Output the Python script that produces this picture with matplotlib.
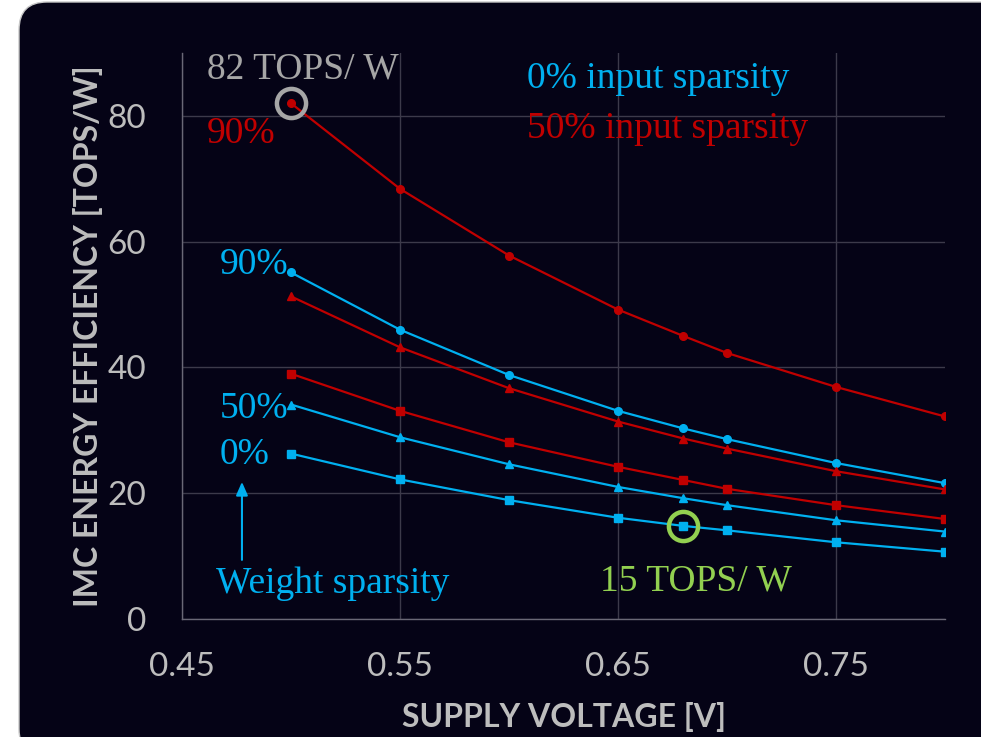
import numpy as np
import matplotlib
matplotlib.use('Agg')
import matplotlib.pyplot as plt
import matplotlib.patches as mpatches
import matplotlib.transforms as mtransforms

voltage = [0.50, 0.55, 0.60, 0.65, 0.68, 0.70, 0.75, 0.80]

# 0% input sparsity (cyan), weight sparsity 90 / 50 / 0 %
in0_w90 = [55.1, 46.0, 38.8, 33.1, 30.3, 28.6, 24.8, 21.6]
in0_w50 = [34.1, 28.9, 24.6, 21.0, 19.2, 18.1, 15.7, 13.9]
in0_w0 = [26.3, 22.2, 18.9, 16.1, 14.8, 14.1, 12.2, 10.7]

# 50% input sparsity (red)
in50_w90 = [82.0, 68.4, 57.8, 49.2, 45.0, 42.3, 36.9, 32.2]
in50_w50 = [51.3, 43.2, 36.7, 31.4, 28.7, 27.1, 23.5, 20.6]
in50_w0 = [39.0, 33.1, 28.1, 24.2, 22.1, 20.7, 18.1, 15.9]

xticks = [0.45, 0.55, 0.65, 0.75]
yticks = [0, 20, 40, 60, 80]

bg = '#050316'
cyan = '#00b0f0'
red = '#c00000'
green = '#92d050'
grey = '#a6a6a6'
light = '#bdbdbd'

fig = plt.figure(figsize=(9.81, 7.37), dpi=100)
fig.patch.set_facecolor('white')

# rounded dark panel in pixel coordinates
panel = mpatches.FancyBboxPatch((19, -20), 1000, 755,
                                boxstyle='round,pad=0,rounding_size=28',
                                facecolor=bg, edgecolor='#c8c8c8', lw=1,
                                transform=mtransforms.IdentityTransform(),
                                zorder=0)
fig.add_artist(panel)

ax = fig.add_axes([182/981, 1 - 619/737, (945-182)/981, (619-53)/737])
ax.set_facecolor('none')

kw = dict(lw=1.6, ms=5.5)
ax.plot(voltage, in50_w90, '-o', color=red, **kw)
ax.plot(voltage, in0_w90, '-o', color=cyan, **kw)
ax.plot(voltage, in50_w50, '-^', color=red, **kw)
ax.plot(voltage, in50_w0, '-s', color=red, **kw)
ax.plot(voltage, in0_w50, '-^', color=cyan, **kw)
ax.plot(voltage, in0_w0, '-s', color=cyan, **kw)

# highlight rings
ax.plot(voltage[0], in50_w90[0], 'o', ms=21, mfc='none', mec=grey, mew=3.2)
ax.plot(voltage[4], in0_w0[4], 'o', ms=21, mfc='none', mec=green, mew=3.2)

ax.set_xlim(0.45, 0.80)
ax.set_ylim(0, 90)
ax.set_xticks(xticks)
ax.set_yticks(yticks)
ax.set_xticklabels([f'{v:.2f}' for v in xticks])
ax.grid(True, color='#3c3a4a', lw=1)
ax.set_axisbelow(True)
for s in ['top', 'right']:
    ax.spines[s].set_visible(False)
for s in ['left', 'bottom']:
    ax.spines[s].set_color('#6a6876')
    ax.spines[s].set_linewidth(1)
ax.tick_params(length=0, colors=light, labelsize=24)
ax.tick_params(axis='x', pad=24)
ax.tick_params(axis='y', pad=26)
for lab in ax.get_xticklabels() + ax.get_yticklabels():
    lab.set_family('Lato')

ax.set_xlabel('SUPPLY VOLTAGE [V]', color=light, fontsize=23,
              fontweight='bold', family='Lato', labelpad=14)
ax.set_ylabel('IMC ENERGY EFFICIENCY [TOPS/W]', color=light, fontsize=23,
              fontweight='bold', family='Lato', labelpad=3)

serif = dict(family='Liberation Serif', fontsize=27, va='baseline')
ax.text(0.4615, 86.0, '82 TOPS/ W', color=grey, **serif)
ax.text(0.4615, 75.7, '90%', color=red, **serif)
ax.text(0.6083, 84.4, '0% input sparsity', color=cyan, **serif)
ax.text(0.6083, 76.5, '50% input sparsity', color=red, **serif)
ax.text(0.4674, 54.9, '90%', color=cyan, **serif)
ax.text(0.4674, 31.9, '50%', color=cyan, **serif)
ax.text(0.4674, 24.7, '0%', color=cyan, **serif)
ax.text(0.4656, 4.1, 'Weight sparsity', color=cyan, **serif)
ax.text(0.6417, 4.6, '15 TOPS/ W', color=green, **serif)

ax.annotate('', xy=(0.4775, 21.8), xytext=(0.4775, 9.4),
            arrowprops=dict(arrowstyle='-|>,head_width=0.35,head_length=0.8',
                            color=cyan, lw=1.5, shrinkA=0, shrinkB=0))

fig.savefig('out.png', dpi=100, facecolor=fig.get_facecolor())
